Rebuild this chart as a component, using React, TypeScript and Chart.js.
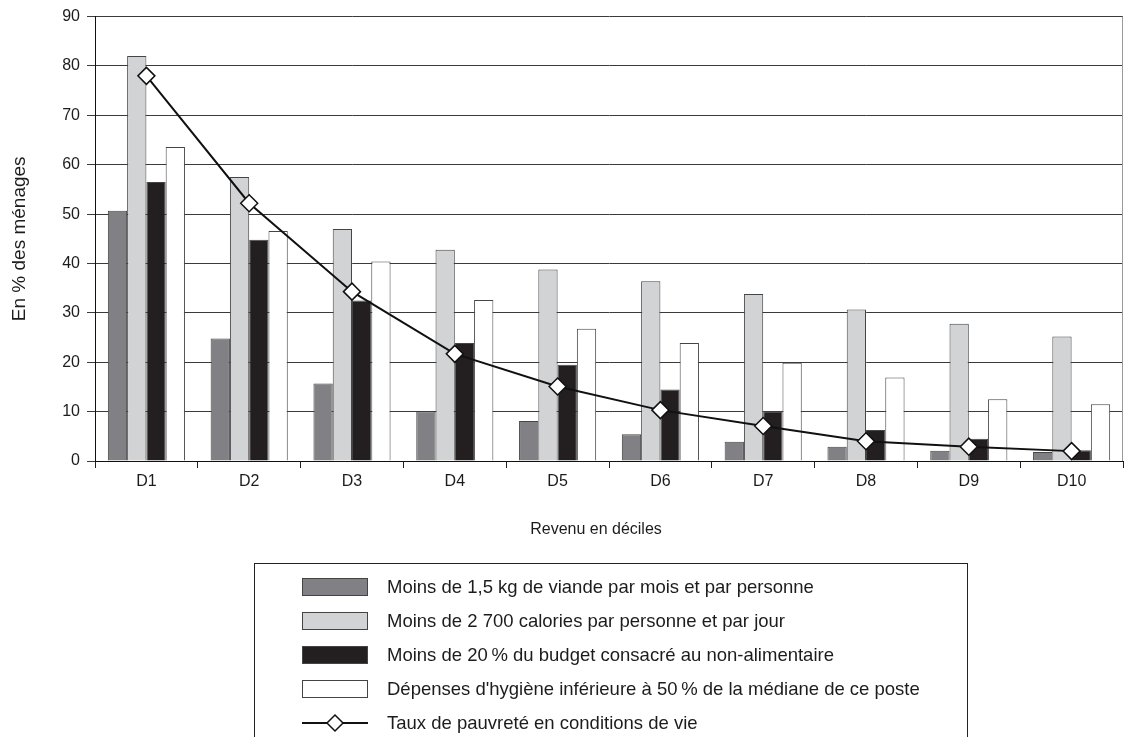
import React, { useEffect, useRef } from "react";
import { Chart, registerables } from "chart.js";

Chart.register(...registerables);

// Income deciles
const deciles = ["D1", "D2", "D3", "D4", "D5", "D6", "D7", "D8", "D9", "D10"];

// Share of households (%) per decile
const meatShare = [50.7, 24.8, 15.7, 10.0, 8.1, 5.4, 3.9, 2.9, 2.1, 1.8];
const caloriesShare = [82.0, 57.5, 47.0, 42.8, 38.8, 36.4, 33.8, 30.7, 27.8, 25.2];
const budgetShare = [56.5, 44.8, 32.5, 23.9, 19.5, 14.5, 10.1, 6.3, 4.5, 2.2];
const hygieneShare = [63.6, 46.6, 40.4, 32.6, 26.8, 23.9, 19.9, 16.9, 12.5, 11.5];
const povertyRate = [78.0, 52.2, 34.3, 21.7, 15.1, 10.3, 7.1, 4.0, 2.9, 2.0];

const seriesLabels = [
  "Moins de 1,5 kg de viande par mois et par personne",
  "Moins de 2 700 calories par personne et par jour",
  "Moins de 20\u202f% du budget consacré au non-alimentaire",
  "Dépenses d'hygiène inférieure à 50\u202f% de la médiane de ce poste",
  "Taux de pauvreté en conditions de vie",
];

const yTicks = [0, 10, 20, 30, 40, 50, 60, 70, 80, 90];

const xTitle = "Revenu en déciles";
const yTitle = "En % des ménages";

const FONT = "'Liberation Sans', Arial, Helvetica, sans-serif";
const TEXT = "#1c1c1c";

// Axis titles placed by hand around the plot area
const axisTitles = {
  id: "axisTitles",
  afterDraw(chart: any) {
    const { ctx, chartArea } = chart;
    ctx.save();
    ctx.fillStyle = TEXT;
    ctx.textAlign = "center";
    ctx.textBaseline = "middle";
    ctx.font = `16px ${FONT}`;
    ctx.fillText(xTitle, 596, 530);
    ctx.translate(20, (chartArea.top + chartArea.bottom) / 2);
    ctx.rotate(-Math.PI / 2);
    ctx.font = `19px ${FONT}`;
    ctx.fillText(yTitle, 0, 0);
    ctx.restore();
  },
};

// Boxed single-column legend under the axis title
const boxedLegend = {
  id: "boxedLegend",
  afterDraw(chart: any) {
    const ctx = chart.ctx;
    const ds = chart.data.datasets;
    ctx.save();
    ctx.strokeStyle = "#222";
    ctx.lineWidth = 1;
    ctx.strokeRect(254.5, 563.5, 713, 200);
    ctx.font = `18.5px ${FONT}`;
    ctx.textBaseline = "middle";
    ctx.textAlign = "left";
    const rowY = [587, 621, 655, 689, 723];
    const sx = 302;
    const sw = 66;
    ds.forEach((d: any, i: number) => {
      const y = rowY[i];
      if (d.type === "line") {
        ctx.strokeStyle = "#111";
        ctx.lineWidth = 2;
        ctx.beginPath();
        ctx.moveTo(sx, y);
        ctx.lineTo(sx + sw, y);
        ctx.stroke();
        const cx = sx + sw / 2;
        const r = 8;
        ctx.beginPath();
        ctx.moveTo(cx, y - r);
        ctx.lineTo(cx + r, y);
        ctx.lineTo(cx, y + r);
        ctx.lineTo(cx - r, y);
        ctx.closePath();
        ctx.fillStyle = "#fff";
        ctx.fill();
        ctx.lineWidth = 1.5;
        ctx.stroke();
      } else {
        ctx.fillStyle = d.backgroundColor;
        ctx.fillRect(sx, y - 9, sw, 18);
        ctx.strokeStyle = "#444";
        ctx.lineWidth = 1;
        ctx.strokeRect(sx + 0.5, y - 8.5, sw - 1, 17);
      }
      ctx.fillStyle = TEXT;
      ctx.fillText(d.label, 387, y + 1);
    });
    ctx.restore();
  },
};

// Light frame on the right edge of the plot area
const rightFrame = {
  id: "rightFrame",
  afterDraw(chart: any) {
    const { ctx, chartArea } = chart;
    ctx.save();
    ctx.strokeStyle = "#9a9a9a";
    ctx.lineWidth = 1;
    ctx.beginPath();
    ctx.moveTo(chartArea.right - 0.5, chartArea.top);
    ctx.lineTo(chartArea.right - 0.5, chartArea.bottom);
    ctx.stroke();
    ctx.restore();
  },
};

export default function App() {
  const canvasRef = useRef<HTMLCanvasElement | null>(null);

  useEffect(() => {
    if (!canvasRef.current) return;
    const barBase = { borderColor: "#454545", borderWidth: 1, order: 1 };
    const chart = new Chart(canvasRef.current, {
      type: "bar",
      data: {
        labels: deciles,
        datasets: [
          { ...barBase, label: seriesLabels[0], data: meatShare, backgroundColor: "#818185" },
          { ...barBase, label: seriesLabels[1], data: caloriesShare, backgroundColor: "#d2d3d5" },
          { ...barBase, label: seriesLabels[2], data: budgetShare, backgroundColor: "#231f20" },
          { ...barBase, label: seriesLabels[3], data: hygieneShare, backgroundColor: "#ffffff" },
          {
            type: "line",
            label: seriesLabels[4],
            data: povertyRate,
            borderColor: "#111",
            borderWidth: 2,
            pointStyle: "rectRot",
            pointRadius: 8.5,
            pointBackgroundColor: "#ffffff",
            pointBorderColor: "#111",
            pointBorderWidth: 1.5,
            tension: 0,
            order: 0,
          } as any,
        ],
      },
      options: {
        animation: false,
        responsive: false,
        layout: { padding: { top: 15, right: 4, bottom: 197, left: 0 } },
        datasets: { bar: { categoryPercentage: 0.75, barPercentage: 1.0 } },
        plugins: { legend: { display: false }, tooltip: { enabled: false } },
        scales: {
          x: {
            grid: {
              offset: true,
              drawOnChartArea: false,
              drawTicks: true,
              tickLength: 7,
              color: "#222",
            },
            border: { color: "#111", width: 1 },
            ticks: { font: { family: FONT, size: 16 }, color: TEXT, padding: 4 },
            afterFit(scale: any) {
              scale.height = 79;
            },
          },
          y: {
            min: 0,
            max: 90,
            afterBuildTicks(scale: any) {
              scale.ticks = yTicks.map((v) => ({ value: v }));
            },
            grid: { color: "#3a3a3a", lineWidth: 1, tickLength: 8 },
            border: { color: "#111", width: 1 },
            ticks: { font: { family: FONT, size: 16 }, color: TEXT, padding: 7 },
            afterFit(scale: any) {
              scale.width = 95;
            },
          },
        },
      } as any,
      plugins: [rightFrame, axisTitles, boxedLegend],
    });
    return () => chart.destroy();
  }, []);

  return (
    <div style={{ position: "absolute", left: 0, top: 0, width: 1133, height: 737, background: "#fff" }}>
      <canvas ref={canvasRef} width={1133} height={737} />
    </div>
  );
}
